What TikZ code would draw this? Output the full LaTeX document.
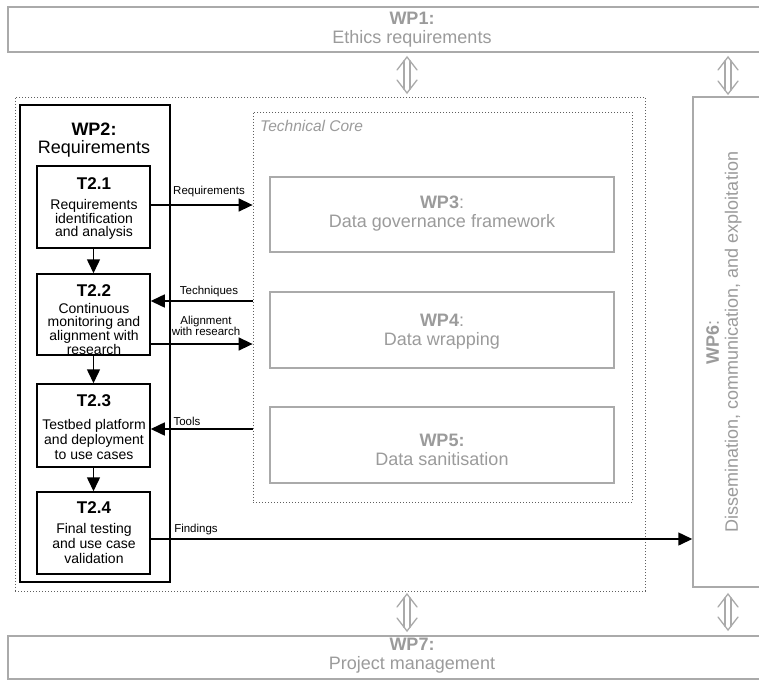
\documentclass[tikz,border=0pt]{standalone}
\usepackage{fontspec}
\setmainfont{Liberation Sans}
\usetikzlibrary{arrows.meta,calc}

\definecolor{wptextgray}{RGB}{155,155,155}
\definecolor{wplinegray}{RGB}{170,170,170}
\definecolor{dotgray}{RGB}{95,95,95}

% hollow double-headed arrow between two named points (upper, lower)
\newcommand{\hollowarrow}[2]{%
  \draw[hollow] ($(#1)+(-10,13)$) -- (#1) -- ($(#1)+(10,13)$);
  \draw[hollow] ($(#2)+(-10,-13)$) -- (#2) -- ($(#2)+(10,-13)$);
  \draw[hollow] ($(#1)+(-3,3.9)$) -- ($(#2)+(-3,-3.9)$);
  \draw[hollow] ($(#1)+(3,3.9)$) -- ($(#2)+(3,-3.9)$);
}

\begin{document}
\begin{tikzpicture}[x=1pt,y=-1pt,
  wpbox/.style={draw=wplinegray, line width=1.5pt, inner sep=0pt},
  wptext/.style={text=wptextgray, align=center, inner sep=0pt,
    font=\fontsize{18}{19}\selectfont},
  dotbox/.style={draw=dotgray, line width=0.8pt, dash pattern=on 0.8pt off 2.2pt, inner sep=0pt},
  wp2box/.style={draw=black, line width=2pt, inner sep=0pt},
  taskbox/.style={draw=black, line width=1.5pt, inner sep=0pt},
  tasktitle/.style={inner sep=0pt, font=\fontsize{17}{17}\selectfont\bfseries},
  taskbody/.style={inner sep=0pt, align=center},
  lbl/.style={inner sep=0pt, align=center, font=\fontsize{11.5}{10.5}\selectfont},
  blk/.style={draw=black, line width=1.5pt, -{Triangle[length=14pt,width=13pt]}},
  hollow/.style={draw=wplinegray, line width=1.3pt, line cap=round, line join=miter},
]
\useasboundingbox (0,0) rectangle (759,680);
\clip (0,0) rectangle (759,680);
\fill[white] (0,0) rectangle (759,680);

% ---------- surrounding work packages ----------
\node[wpbox, minimum width=808, minimum height=45] (wp1) at (412,29.5) {};
\node[wptext] (wp1text) at (412,29.5) {\textbf{WP1:}\\Ethics requirements};

\node[wpbox, minimum width=808, minimum height=43] (wp7) at (412,657.5) {};
\node[wptext] (wp7text) at (412,655.5) {\textbf{WP7:}\\Project management};

\node[wpbox, minimum width=123, minimum height=490] (wp6) at (754.5,342) {};
\node[wptext, rotate=90] (wp6text) at (724,342)
  {\textbf{WP6}:\\Dissemination, communication, and exploitation};

% ---------- dotted groups ----------
\node[dotbox, minimum width=630, minimum height=494] (outer) at (330,344) {};
\node[dotbox, minimum width=379, minimum height=390] (core) at (442.5,307) {};
\node[anchor=west, inner sep=0pt, text=wptextgray,
  font=\fontsize{15.5}{16}\selectfont\itshape] (coretitle) at (260,126) {Technical Core};

% ---------- technical work packages ----------
\node[wpbox, minimum width=344, minimum height=75] (wp3) at (442,214.5) {};
\node[wptext] (wp3text) at (442,213.5) {\textbf{WP3}:\\Data governance framework};
\node[wpbox, minimum width=344, minimum height=76] (wp4) at (442,330) {};
\node[wptext] (wp4text) at (442,331.5) {\textbf{WP4}:\\Data wrapping};
\node[wpbox, minimum width=344, minimum height=76] (wp5) at (442,445) {};
\node[wptext] (wp5text) at (442,449.5) {\textbf{WP5:}\\Data sanitisation};

% ---------- WP2 and its tasks ----------
\node[wp2box, minimum width=150, minimum height=477] (wp2) at (95,343.5) {};
\node[inner sep=0pt, align=center, font=\fontsize{18}{17.5}\selectfont] (wp2text) at (94,140)
  {\textbf{WP2:}\\Requirements};

\node[taskbox, minimum width=113, minimum height=82] (t21) at (93.5,207) {};
\node[taskbox, minimum width=113, minimum height=81] (t22) at (93.5,314.5) {};
\node[taskbox, minimum width=113, minimum height=83] (t23) at (93.5,425.5) {};
\node[taskbox, minimum width=113, minimum height=82] (t24) at (93.5,533) {};

\node[tasktitle] (t21title) at (94,184) {T2.1};
\node[tasktitle] (t22title) at (94,291) {T2.2};
\node[tasktitle] (t23title) at (94,401) {T2.3};
\node[tasktitle] (t24title) at (94,508) {T2.4};

\node[taskbody, font=\fontsize{14}{13}\selectfont] (t21body) at (94,219)
  {Requirements\\identification\\and analysis};
\node[taskbody, font=\fontsize{14}{12.5}\selectfont] (t22body) at (94,329)
  {Continuous\\monitoring and\\alignment with\\research};
\node[taskbody, font=\fontsize{14}{15}\selectfont] (t23body) at (94,439)
  {Testbed platform\\and deployment\\to use cases};
\node[taskbody, font=\fontsize{14}{15}\selectfont] (t24body) at (94,543)
  {Final testing\\and use case\\validation};

% ---------- task sequence ----------
\draw[blk] (t21) -- (t22);
\draw[blk] (t22) -- (t23);
\draw[blk] (t23) -- (t24);

% ---------- exchanges with the technical core ----------
\draw[blk] ([yshift=2]t21.east) -- ([yshift=2]t21.east -| core.west);
\node[lbl] (lreq) at (209,192) {Requirements};

\draw[blk] ([yshift=13.5]t22.east -| core.west) -- ([yshift=13.5]t22.east);
\node[lbl] (ltech) at (209,292) {Techniques};

\draw[blk] ([yshift=-29.5]t22.east) -- ([yshift=-29.5]t22.east -| core.west);
\node[lbl] (lalign) at (206,326) {Alignment\\with research};

\draw[blk] ([yshift=-3.5]t23.east -| core.west) -- ([yshift=-3.5]t23.east);
\node[lbl] (ltools) at (187,421) {Tools};

\draw[blk] ([yshift=-6]t24.east) -- ([yshift=-6]t24.east -| wp6.west);
\node[lbl] (lfind) at (196,530) {Findings};

% ---------- links to WP1 and WP7 ----------
\coordinate (a1t) at (407,57);  \coordinate (a1b) at (407,93);
\coordinate (a2t) at (728,57);  \coordinate (a2b) at (728,94);
\coordinate (a3t) at (407,594); \coordinate (a3b) at (407,631);
\coordinate (a4t) at (728,594); \coordinate (a4b) at (728,630);
\hollowarrow{a1t}{a1b}
\hollowarrow{a2t}{a2b}
\hollowarrow{a3t}{a3b}
\hollowarrow{a4t}{a4b}
\end{tikzpicture}
\end{document}
